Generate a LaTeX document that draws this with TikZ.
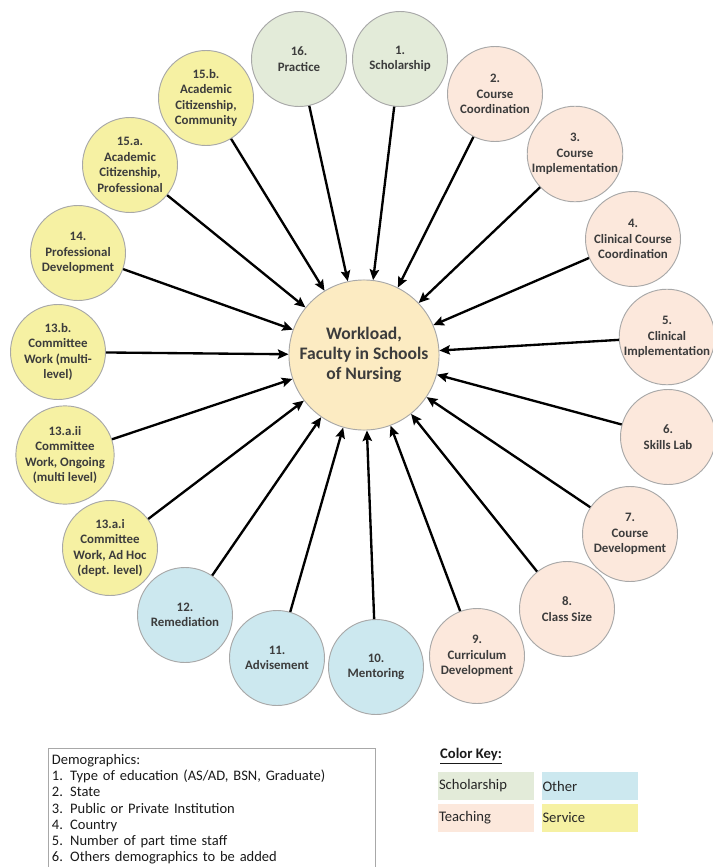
\documentclass[tikz,border=0pt]{standalone}
\usepackage{fontspec}
\setmainfont{Carlito}
\usepackage{tikz}
\usetikzlibrary{arrows.meta}

\definecolor{scholarfill}{HTML}{E3EBD9}
\definecolor{teachfill}{HTML}{FCE8DC}
\definecolor{otherfill}{HTML}{CCE8EF}
\definecolor{servicefill}{HTML}{F6F1A3}
\definecolor{workfill}{HTML}{FCEBC2}
\definecolor{rimgray}{HTML}{A8A8A8}
\definecolor{textgray}{HTML}{3C3C3C}

\begin{document}
\begin{tikzpicture}[
    x=0.03cm, y=-0.03cm,
    topicnode/.style={circle, draw=rimgray, line width=0.8pt, minimum size=2.85cm, inner sep=0pt, align=center, text=textgray, font=\fontsize{11}{13.2}\selectfont\bfseries},
    scholarnode/.style={topicnode, fill=scholarfill},
    teachnode/.style={topicnode, fill=teachfill},
    othernode/.style={topicnode, fill=otherfill},
    servicenode/.style={topicnode, fill=servicefill},
    keynode/.style={rectangle, minimum height=0.84cm, text width=2.82cm, inner xsep=0.03cm, align=left, text=black!85, font=\fontsize{12.5}{14}\selectfont}
    ]
        \useasboundingbox (0,0) rectangle (713,867);

        %Nodes
        \node[circle, draw=rimgray, line width=0.8pt, fill=workfill, minimum size=4.4cm, align=center, text=textgray, font=\fontsize{15}{17}\selectfont\bfseries]
            (work) at (364,355) {Workload,\\Faculty in Schools\\of Nursing};

        \node[scholarnode] (n1)     at (400,59)  {1.\\Scholarship};
        \node[teachnode]   (n2)     at (495,94)  {2.\\Course\\Coordination};
        \node[teachnode]   (n3)     at (575,154) {3.\\Course\\Implementation};
        \node[teachnode]   (n4)     at (633,239) {4.\\Clinical Course\\Coordination};
        \node[teachnode]   (n5)     at (667,337) {5.\\Clinical\\Implementation};
        \node[teachnode]   (n6)     at (668,437) {6.\\Skills Lab};
        \node[teachnode]   (n7)     at (630,534) {7.\\Course\\Development};
        \node[teachnode]   (n8)     at (567,609) {8.\\Class Size};
        \node[teachnode]   (n9)     at (477,656) {9.\\Curriculum\\Development};
        \node[othernode]   (n10)    at (376,667) {10.\\Mentoring};
        \node[othernode]   (n11)    at (277,658) {11.\\Advisement};
        \node[othernode]   (n12)    at (185,615) {12.\\Remediation};
        \node[servicenode] (n13ai)  at (110,548) {13.a.i\\Committee\\Work, Ad Hoc\\(dept. level)};
        \node[servicenode] (n13aii) at (65,455)  {13.a.ii\\Committee\\Work, Ongoing\\(multi level)};
        \node[servicenode] (n13b)   at (58,352)  {13.b.\\Committee\\Work (multi-\\level)};
        \node[servicenode] (n14)    at (78,253)  {14.\\Professional\\Development};
        \node[servicenode] (n15a)   at (130,165) {15.a.\\Academic\\Citizenship,\\Professional};
        \node[servicenode] (n15b)   at (206,98)  {15.b.\\Academic\\Citizenship,\\Community};
        \node[scholarnode] (n16)    at (299,59)  {16.\\Practice};

        %Lines
        \foreach \n in {n1,n2,n3,n4,n5,n6,n7,n8,n9,n10,n11,n12,n13ai,n13aii,n13b,n14,n15a,n15b,n16}
            \draw[->, >={Stealth[length=9pt, width=8pt, inset=1.5pt]}, line width=2pt] (\n) -- (work);

        %Demographics
        \node[draw=rimgray, line width=1pt, anchor=north west, text width=9.6cm, inner xsep=0.1cm, inner ysep=5pt, align=left, text=black!90, font=\fontsize{12.4}{13.8}\selectfont]
            (demo) at (48,748) {Demographics:\\1. Type of education (AS/AD, BSN, Graduate)\\2. State\\3. Public or Private Institution\\4. Country\\5. Number of part time staff\\6. Others demographics to be added\\[4pt]};

        %Color key
        \node[anchor=west, inner sep=0pt, text=black!90, font=\fontsize{12.5}{14}\selectfont\bfseries]
            (keytitle) at (440,756) {\underline{Color Key:}};
        \node[keynode, fill=scholarfill] (kscholar) at (486,786)   {Scholarship};
        \node[keynode, fill=otherfill]   (kother)   at (589.5,786) {Other};
        \node[keynode, fill=teachfill]   (kteach)   at (486,817.5) {Teaching};
        \node[keynode, fill=servicefill] (kservice) at (589.5,817.5) {Service};
    \end{tikzpicture}
\end{document}
